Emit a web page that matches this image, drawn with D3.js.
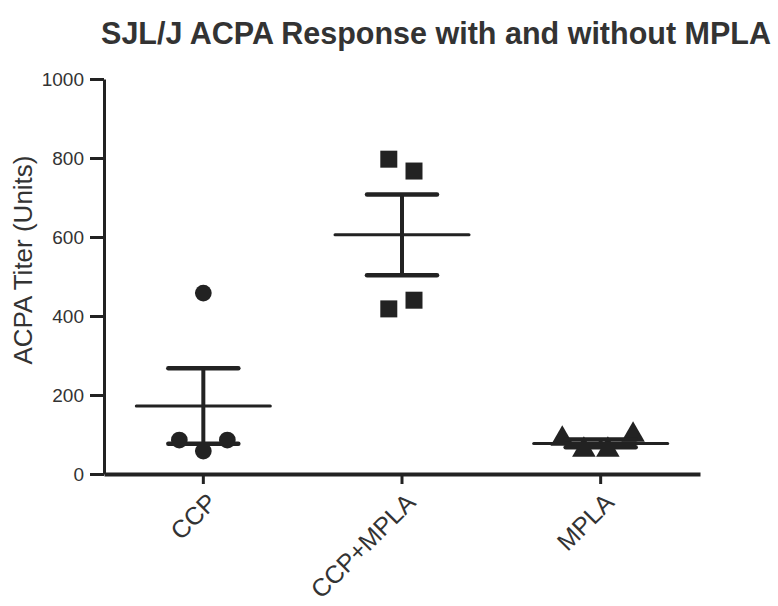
<!DOCTYPE html>
<html><head><meta charset="utf-8">
<script src="https://cdn.jsdelivr.net/npm/d3@7"></script>
<style>body{margin:0;background:#fff;} svg{display:block;}</style>
</head><body>
<script>
const categories = ["CCP", "CCP+MPLA", "MPLA"];
const ccpValues = [458, 86, 86, 58];
const ccpMplaValues = [797, 767, 418, 440];
const mplaValues = [89, 99, 61, 61];
const ccpOffsets = [0, -1, 1, 0];
const ccpMplaOffsets = [-0.55, 0.5, -0.55, 0.5];
const mplaOffsets = [-1.6, 1.35, -0.7, 0.3];
const yTicks = [0, 200, 400, 600, 800, 1000];
const title = "SJL/J ACPA Response with and without MPLA";
const yLabel = "ACPA Titer (Units)";

const W = 778, H = 606;
const font = "Liberation Sans, Arial, sans-serif";
const svg = d3.select("body").append("svg").attr("width", W).attr("height", H);
const x = d3.scaleBand().domain(categories).range([104, 700]);
const y = d3.scaleLinear().domain([0, 1000]).range([474, 79]);
const ink = "#222", txt = "#333";

const groups = [
  {cat: "CCP", vals: ccpValues, offs: ccpOffsets, shape: d3.symbolCircle, size: 220},
  {cat: "CCP+MPLA", vals: ccpMplaValues, offs: ccpMplaOffsets, shape: d3.symbolSquare, size: 289},
  {cat: "MPLA", vals: mplaValues, offs: mplaOffsets, shape: d3.symbolTriangle, size: 240}
];

// title
svg.append("text").attr("x", 436).attr("y", 44).attr("text-anchor", "middle")
  .attr("font-family", font).attr("font-weight", "bold")
  .attr("font-size", 30.5).attr("fill", txt).text(title);

// y axis
const yAxis = svg.append("g").attr("transform", "translate(104,0)")
  .call(d3.axisLeft(y).tickValues(yTicks).tickFormat(d3.format("d")).tickSize(14).tickPadding(6).tickSizeOuter(0));
yAxis.select(".domain").attr("stroke", ink).attr("stroke-width", 3);
yAxis.selectAll(".tick line").attr("stroke", ink).attr("stroke-width", 3);
yAxis.selectAll(".tick text").attr("font-family", font)
  .attr("font-size", 19).attr("fill", txt);

// x axis
const xAxis = svg.append("g").attr("transform", "translate(0,474)")
  .call(d3.axisBottom(x).tickSize(10).tickSizeOuter(0));
xAxis.select(".domain").attr("stroke", ink).attr("stroke-width", 4);
xAxis.selectAll(".tick line").attr("stroke", ink).attr("stroke-width", 3);
xAxis.selectAll(".tick text").attr("font-family", font)
  .attr("font-size", 25).attr("fill", txt)
  .attr("text-anchor", "end").attr("dy", null).attr("y", 0)
  .attr("transform", "translate(15,30) rotate(-45)");

// y label
svg.append("text").attr("transform", "translate(32,260) rotate(-90)")
  .attr("text-anchor", "middle").attr("font-family", font)
  .attr("font-size", 26).attr("fill", txt).text(yLabel);

groups.forEach(g => {
  const cx = x(g.cat) + x.bandwidth() / 2;
  const m = d3.mean(g.vals);
  const sem = d3.deviation(g.vals) / Math.sqrt(g.vals.length);
  svg.append("g").selectAll("path").data(g.vals).join("path")
    .attr("d", d3.symbol().type(g.shape).size(g.size))
    .attr("transform", (d, i) => `translate(${cx + g.offs[i] * 24},${y(d)})`)
    .attr("fill", ink);
  svg.append("line").attr("x1", cx).attr("x2", cx).attr("y1", y(m - sem)).attr("y2", y(m + sem))
    .attr("stroke", ink).attr("stroke-width", 4);
  [m - sem, m + sem].forEach(v => svg.append("line").attr("x1", cx - 35).attr("x2", cx + 35)
    .attr("y1", y(v)).attr("y2", y(v)).attr("stroke", ink).attr("stroke-width", 4.5).attr("stroke-linecap", "round"));
  svg.append("line").attr("x1", cx - 67).attr("x2", cx + 67).attr("y1", y(m)).attr("y2", y(m))
    .attr("stroke", ink).attr("stroke-width", 3).attr("stroke-linecap", "round");
});
</script>
</body></html>
